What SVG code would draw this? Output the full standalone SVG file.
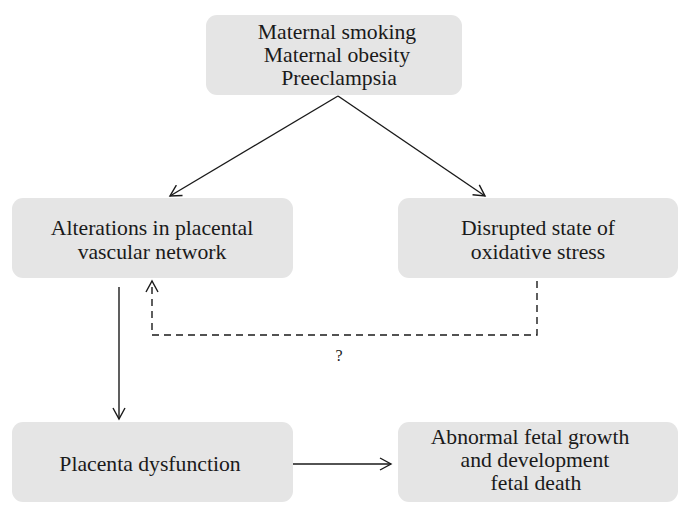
<svg xmlns="http://www.w3.org/2000/svg" width="689" height="516" viewBox="0 0 689 516">
<defs>
<style>
.box{fill:#e5e5e5;stroke:none}
.t{font-family:"Liberation Serif","Times New Roman",serif;font-size:21.7px;fill:#1a1a1a;text-anchor:middle}
.c{fill:none;stroke:#1a1a1a;stroke-width:1.4}
.d{stroke-dasharray:7,5}
</style>
<marker id="ah" markerWidth="14" markerHeight="14" refX="12" refY="7" orient="auto" markerUnits="userSpaceOnUse">
<path d="M1,1 L12,7 L1,13" fill="none" stroke="#1a1a1a" stroke-width="1.4"/>
</marker>
</defs>
<rect width="689" height="516" fill="#fff"/>
<g id="top">
<rect class="box" x="206" y="15" width="256" height="80" rx="11"/>
<text class="t" x="337" y="39">Maternal smoking</text>
<text class="t" x="337" y="62">Maternal obesity</text>
<text class="t" x="339" y="85">Preeclampsia</text>
</g>
<g id="alter">
<rect class="box" x="12" y="198" width="281" height="80" rx="11"/>
<text class="t" x="152" y="235">Alterations in placental</text>
<text class="t" x="152" y="259">vascular network</text>
</g>
<g id="oxid">
<rect class="box" x="398" y="198" width="280" height="80" rx="11"/>
<text class="t" x="538" y="235">Disrupted state of</text>
<text class="t" x="538" y="259">oxidative stress</text>
</g>
<g id="dysf">
<rect class="box" x="12" y="422" width="281" height="80" rx="11"/>
<text class="t" x="150" y="471">Placenta dysfunction</text>
</g>
<g id="fetal">
<rect class="box" x="398" y="422" width="280" height="80" rx="11"/>
<text class="t" x="530" y="444">Abnormal fetal growth</text>
<text class="t" x="535" y="467">and development</text>
<text class="t" x="536" y="490">fetal death</text>
</g>
<g id="connectors">
<path class="c" d="M338,96 L170,196" marker-end="url(#ah)"/>
<path class="c" d="M338,96 L485,196" marker-end="url(#ah)"/>
<path class="c d" d="M537,281 L537,335 L152,335 L152,281" marker-end="url(#ah)"/>
<text class="t" x="339" y="361" style="font-size:16px">?</text>
<path class="c" d="M119,287 L119,419" marker-end="url(#ah)"/>
<path class="c" d="M293,464 L391,464" marker-end="url(#ah)"/>
</g>
</svg>
